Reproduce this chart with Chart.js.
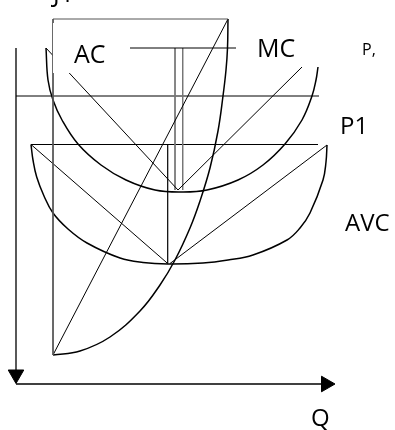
<!DOCTYPE html>
<html>
<head>
<meta charset="utf-8">
<script src="https://cdn.jsdelivr.net/npm/chart.js@4.4.1/dist/chart.umd.min.js"></script>
<style>
  body { margin: 0; background: #fff; }
  canvas { display: block; }
</style>
</head>
<body>
<canvas id="myChart" width="395" height="430"></canvas>
<script>
// values: Q across, P up, origin at the corner of the axes
const acQ  = [30, 32, 37, 46, 62, 85, 110, 139, 166, 191, 222, 247, 269, 286, 296, 300, 302]
const acP  = [336, 304, 284, 264, 240, 219, 204, 194, 192, 194, 204, 219, 240, 264, 288, 304, 317]
const mcQ  = [37, 64, 94, 124, 144, 159, 174, 184, 194, 202, 207, 210, 211.5, 212]
const mcP  = [29, 33, 47, 73, 99, 124, 156, 183, 216, 253, 288, 314, 336, 365]
const avcQ = [15, 17, 20.7, 28, 37, 52, 71, 104, 127, 152, 187, 212, 237, 271, 284, 294, 307, 310, 311]
const avcP = [239.5, 224, 207, 188, 171, 155, 141, 126, 121.5, 120, 121, 124, 129, 144, 156, 171, 204, 222, 239]

// straight strokes of the drawing, [Q, P] ends
const boxTop   = [[37, 365], [212, 365]]
const boxLeft  = [[37, 365], [37, 29]]
const mcChord  = [[37, 29], [212, 365]]
const acLeft   = [[30, 336], [162, 194]]
const acRight  = [[162, 194], [286, 317]]
const acRule   = [[37, 336], [220, 336]]
const acDropA  = [[159, 336], [159, 194]]
const acDropB  = [[166.7, 336], [166.7, 194]]
const pLine    = [[0, 288], [303, 288]]
const p1Line   = [[15, 239.5], [302, 239.5]]
const avcLeft  = [[15, 239.5], [151.7, 120.5]]
const avcRight = [[311, 239], [154, 120.5]]
const avcDrop  = [[151.7, 239.5], [151.7, 120.5]]
const qAxis    = [[0, 0], [310, 0]]
const pAxis    = [[0, 336], [0, 1]]
const arrowQ   = [0, 310]
const arrowP   = [9.5, 0]

// labels: text, Q of left edge, P of baseline, size
const labelText = ['AC', 'MC', 'P,', 'P1', 'AVC', 'Q', 'J1']
const labelQ    = [58, 241, 346, 324, 329, 295, 37]
const labelP    = [321, 327, 329, 250, 153, -42, 382.5]
const labelSize = [25, 25, 16, 24, 24, 24, 25]
// white boxes that cover the strokes behind AC and MC: [Q1, P1, Q2, P2]
const blanks = [[37, 361, 114, 311], [220, 361, 324, 317]]

const pts = (qs, ps) => qs.map((q, i) => ({x: q, y: ps[i]}))
const seg = s => s.map(p => ({x: p[0], y: p[1]}))

function stroke(data, color, width) {
    return { data: data, showLine: true, borderColor: color, borderWidth: width,
             pointRadius: 0, fill: false, tension: 0 }
}
function curve(data) {
    return { data: data, showLine: true, borderColor: '#000', borderWidth: 1.5,
             pointRadius: 0, fill: false, tension: 0.4 }
}

const notes = {
    id: 'notes',
    afterDatasetsDraw(chart) {
        const ctx = chart.ctx
        const sx = chart.scales.x, sy = chart.scales.y
        ctx.save()
        ctx.fillStyle = '#fff'
        blanks.forEach(b => {
            const x1 = sx.getPixelForValue(b[0]), y1 = sy.getPixelForValue(b[1])
            const x2 = sx.getPixelForValue(b[2]), y2 = sy.getPixelForValue(b[3])
            ctx.fillRect(x1, y1, x2 - x1, y2 - y1)
        })
        ctx.fillStyle = '#000'
        ctx.textBaseline = 'alphabetic'
        ctx.textAlign = 'left'
        for (let i = 0; i < labelText.length; i++) {
            ctx.font = `${labelSize[i]}px "Open Sans"`
            ctx.fillText(labelText[i], sx.getPixelForValue(labelQ[i]), sy.getPixelForValue(labelP[i]))
        }
        ctx.restore()
    }
}

const ctx = document.getElementById('myChart')
const chart = new Chart(ctx, {
    type: 'scatter',
    data: {
        datasets: [
            stroke(seg(boxTop), '#555', 1),
            stroke(seg(boxLeft), '#555', 1),
            stroke(seg(mcChord), '#000', 1),
            stroke(seg(acLeft), '#000', 1),
            stroke(seg(acRight), '#000', 1),
            stroke(seg(acRule), '#000', 1),
            stroke(seg(acDropA), '#777', 1),
            stroke(seg(acDropB), '#777', 1),
            stroke(seg(pLine), '#000', 1),
            stroke(seg(p1Line), '#000', 1),
            stroke(seg(avcLeft), '#000', 1),
            stroke(seg(avcRight), '#000', 1),
            stroke(seg(avcDrop), '#000', 1.2),
            stroke(seg(qAxis), '#000', 1.3),
            stroke(seg(pAxis), '#000', 1.3),
            curve(pts(acQ, acP)),
            curve(pts(mcQ, mcP)),
            curve(pts(avcQ, avcP)),
            {
                data: pts(arrowQ, arrowP),
                pointStyle: 'triangle',
                rotation: [180, 90],
                pointRadius: 9,
                backgroundColor: '#000',
                borderColor: '#000',
                borderWidth: 1,
                showLine: false
            }
        ]
    },
    options: {
        responsive: false,
        devicePixelRatio: 1,
        animation: false,
        clip: false,
        layout: { padding: 0, autoPadding: false },
        plugins: {
            legend: { display: false },
            tooltip: { enabled: false },
            title: { display: false }
        },
        scales: {
            x: { type: 'linear', min: -16, max: 379, display: false },
            y: { type: 'linear', min: -46, max: 384, display: false }
        }
    },
    plugins: [notes]
})
</script>
</body>
</html>
